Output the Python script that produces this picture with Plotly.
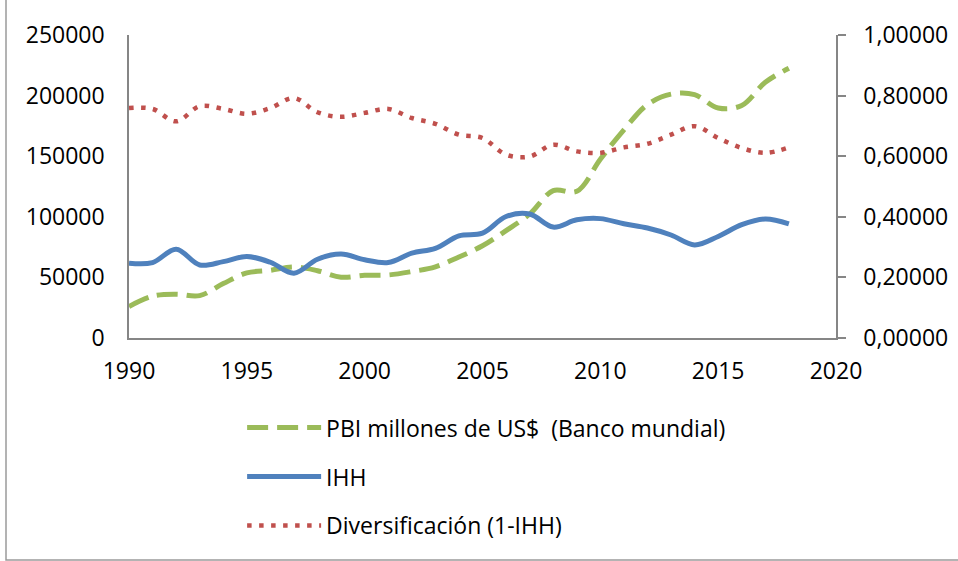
import plotly.graph_objects as go

years = list(range(1990, 2019))

pbi = [26000, 34500, 36100, 35000, 44900, 53700, 55900, 58700, 55500, 50200,
       51700, 52000, 54800, 58700, 66800, 76100, 88600, 102200, 121600, 121000,
       147500, 171800, 192600, 201200, 200800, 189800, 191900, 211000, 222600]

ihh = [0.247, 0.249, 0.293, 0.241, 0.252, 0.269, 0.250, 0.214, 0.260, 0.277,
       0.258, 0.249, 0.280, 0.296, 0.337, 0.346, 0.401, 0.409, 0.366, 0.390,
       0.394, 0.377, 0.363, 0.340, 0.307, 0.335, 0.374, 0.393, 0.377]

divers = [0.759, 0.756, 0.715, 0.765, 0.756, 0.740, 0.759, 0.792, 0.745, 0.730,
          0.743, 0.756, 0.726, 0.707, 0.671, 0.660, 0.605, 0.599, 0.638, 0.616,
          0.611, 0.629, 0.641, 0.671, 0.699, 0.660, 0.627, 0.611, 0.629]

names = ["PBI millones de US$  (Banco mundial)", "IHH", "Diversificación (1-IHH)"]

FONT = "Open Sans"
FS = 23
AX = "#868686"

fig = go.Figure()
fig.add_trace(go.Scatter(x=years, y=pbi, name=names[0], mode="lines", yaxis="y",
                         line=dict(color="#9BBB59", width=5, dash="21px,9px", shape="spline"),
                         legendgroup="a"))
fig.add_trace(go.Scatter(x=years, y=ihh, name=names[1], mode="lines", yaxis="y2",
                         line=dict(color="#4F81BD", width=5, shape="spline"),
                         legendgroup="b"))
fig.add_trace(go.Scatter(x=years, y=divers, name=names[2], mode="lines", yaxis="y2",
                         line=dict(color="#C0504D", width=4.5, dash="4.5px,7.5px", shape="spline"),
                         legendgroup="c"))

fig.update_layout(
    width=958, height=561,
    margin=dict(l=129, r=122, t=35, b=223, autoexpand=False),
    paper_bgcolor="white", plot_bgcolor="white",
    font=dict(family=FONT, size=FS, color="black"),
    separators=",.",
    xaxis=dict(range=[1990, 2020], dtick=5, tick0=1990, showgrid=False, zeroline=False,
               showline=True, linecolor=AX, linewidth=1.5, ticks="outside", ticklen=12,
               tickcolor="rgba(0,0,0,0)", tickformat="d"),
    yaxis=dict(range=[0, 250000], dtick=50000, showgrid=False, zeroline=False,
               showline=True, linecolor=AX, linewidth=1.5, ticks="outside", ticklen=18,
               tickcolor="rgba(0,0,0,0)", tickformat="d"),
    yaxis2=dict(range=[0, 1], dtick=0.2, overlaying="y", side="right", showgrid=False,
                zeroline=False, showline=True, linecolor=AX, linewidth=1.5,
                ticks="outside", ticklen=8, tickcolor=AX, tickwidth=1.5,
                tickformat=".5f", ticklabelstandoff=13),
    showlegend=True,
    legend=dict(x=0.16, y=-0.225, xanchor="left", yanchor="top", tracegroupgap=16,
                font=dict(family=FONT, size=FS), bgcolor="rgba(0,0,0,0)",
                itemwidth=74),
    shapes=[dict(type="rect", xref="paper", yref="paper",
                 x0=(6 - 129) / 707, x1=(970 - 129) / 707,
                 y0=(338 - 560) / 303, y1=(338 + 10) / 303,
                 line=dict(color="#9a9a9a", width=1.5), layer="below")],
)

fig.write_html("out.html", config={"displayModeBar": False},
               post_script="document.body.style.margin='0px';")
